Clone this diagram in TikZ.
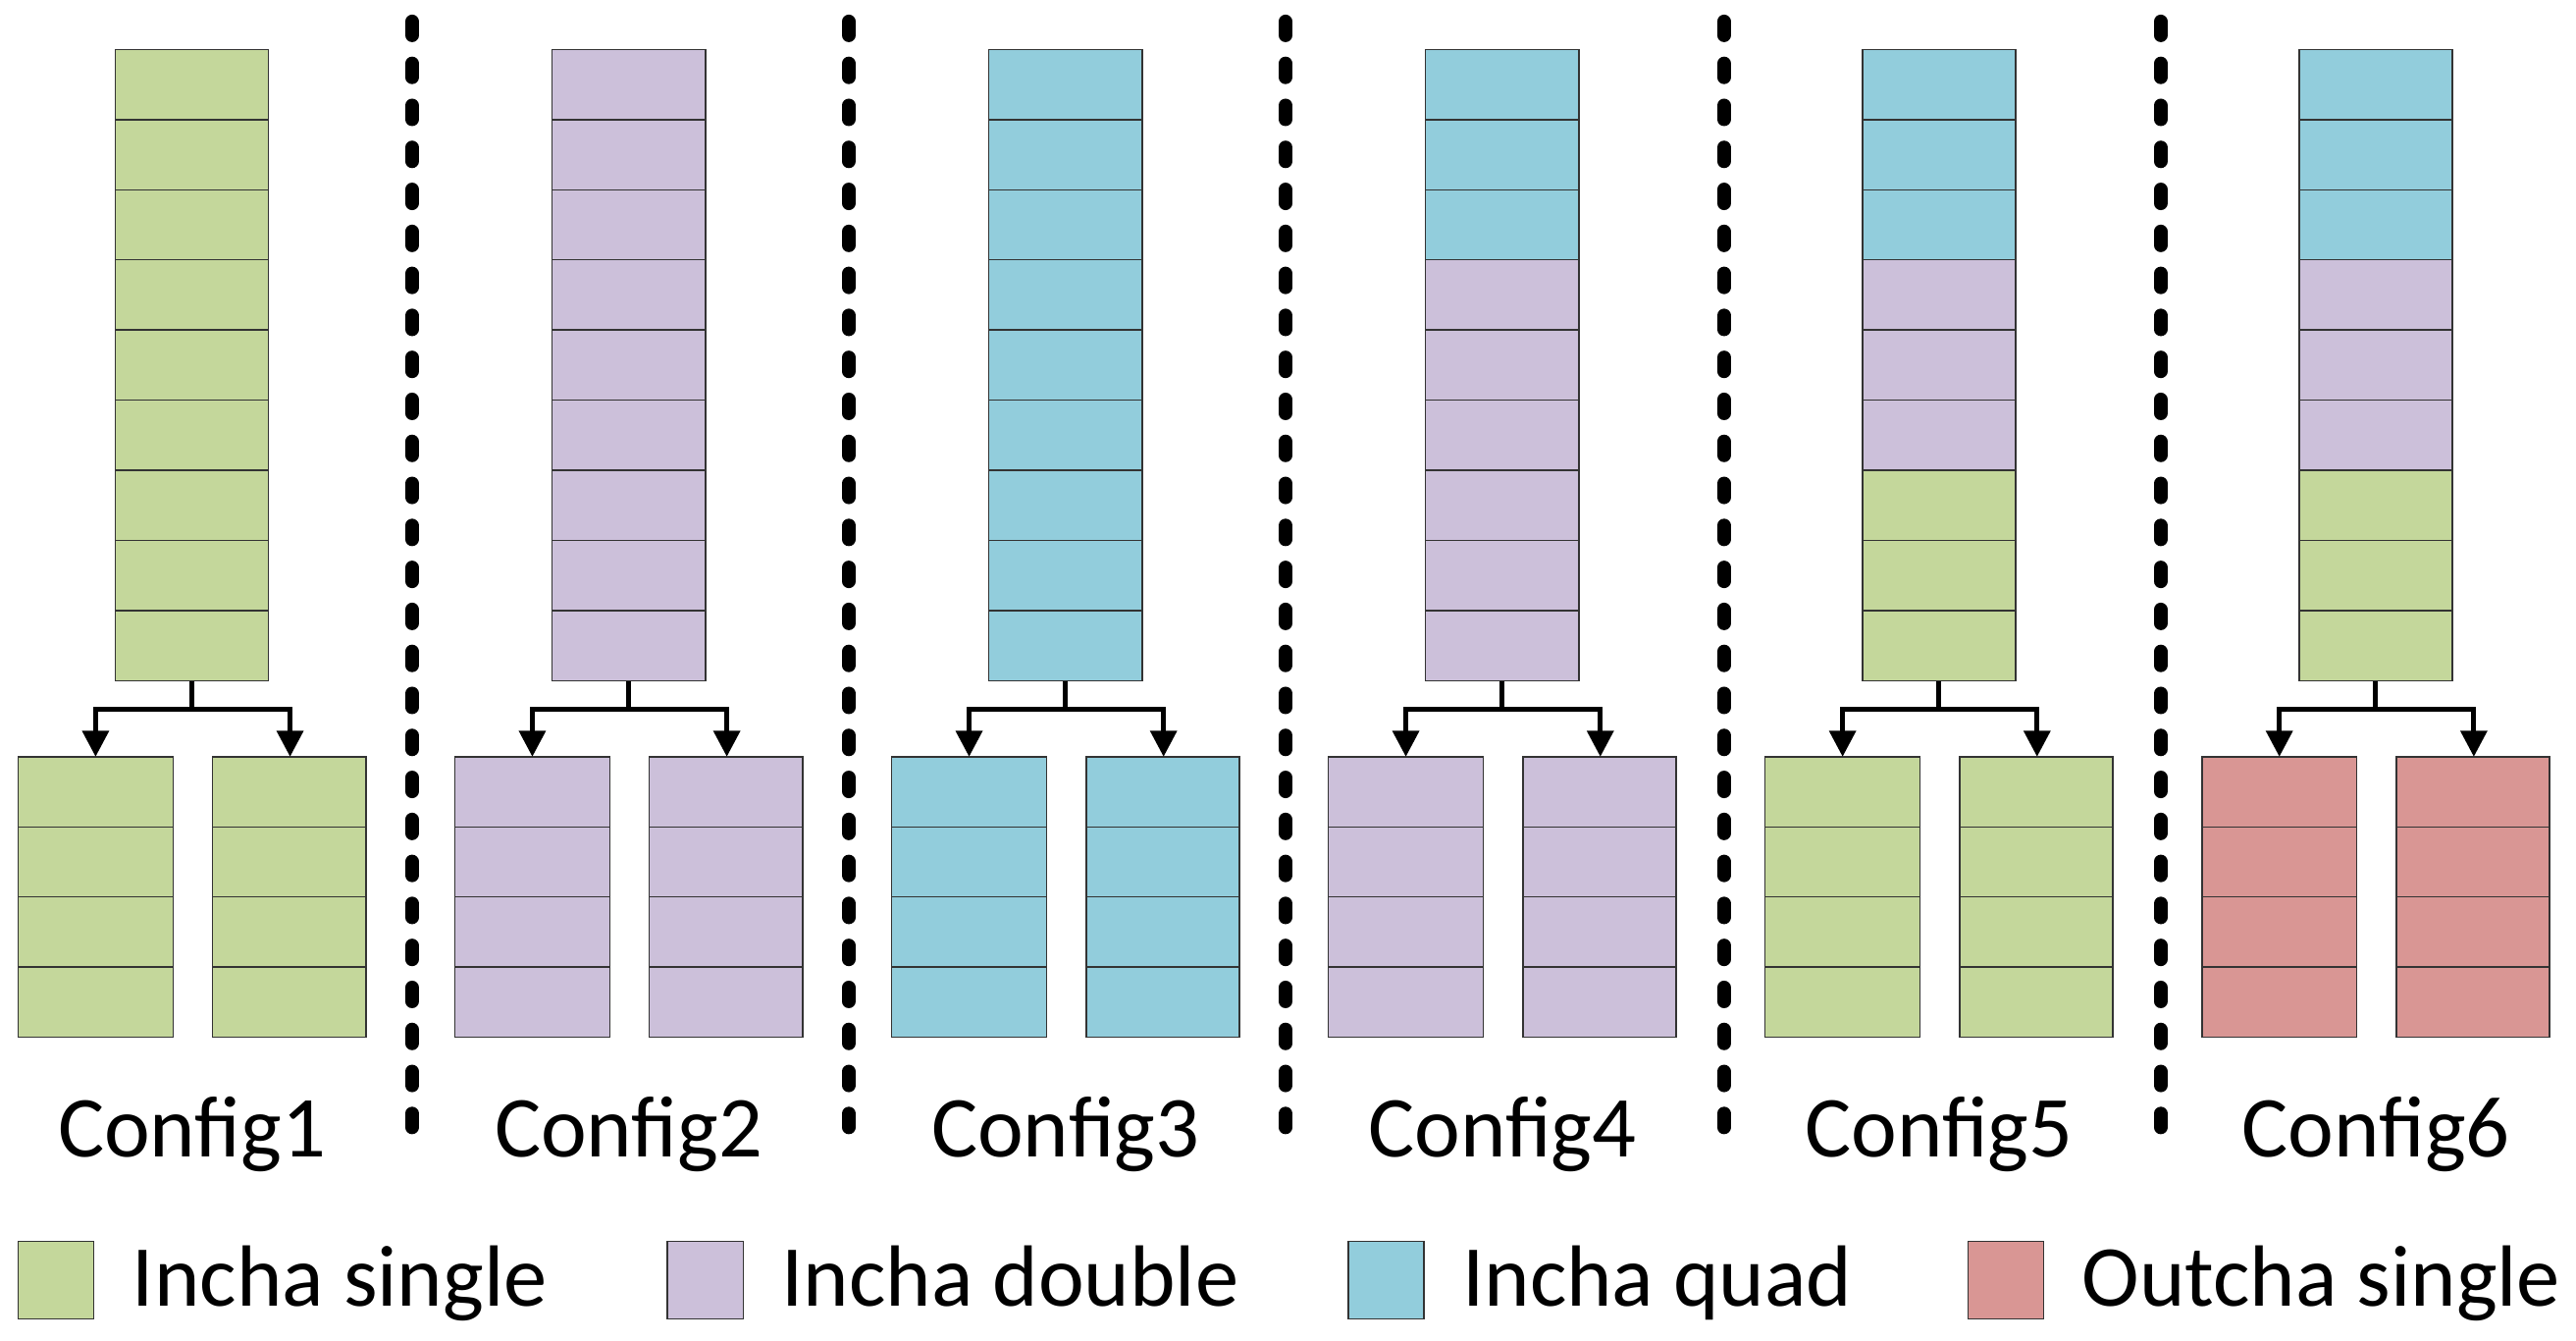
\documentclass[tikz,border=0pt]{standalone}
\usepackage{fontspec}
\setmainfont{Carlito}
\usetikzlibrary{arrows.meta}
\definecolor{cg}{HTML}{C4D79B}
\definecolor{cp}{HTML}{CCC0DA}
\definecolor{cq}{HTML}{92CDDC}
\definecolor{cr}{HTML}{D99694}
\tikzset{cell/.style={draw=black!80,line width=0.5pt},
 conn/.style={line width=1.7pt,-{Triangle[length=9pt,width=9pt]}},
 sep/.style={line width=4.7pt,line cap=round,dash pattern=on 4.8pt off 9.7pt},
 lbl/.style={font=\fontsize{30}{34}\selectfont,inner sep=0pt}}
\newcommand\mkcfg[4]{% #1 index, #2 offset, #3 colors, #4 bottom color
 \foreach \c [count=\j from 0] in {#3}{
  \fill[\c,cell] (70+#2,30+42.55*\j) rectangle (163+#2,72.55+42.55*\j);}
 \coordinate (top#1) at (116.5+#2,413);
 \coordinate (mid#1) at (116.5+#2,430);
 \coordinate (l#1) at (58+#2,430);
 \coordinate (r#1) at (176+#2,430);
 \coordinate (lb#1) at (58+#2,459);
 \coordinate (rb#1) at (176+#2,459);
 \foreach \j in {0,...,3}{
  \fill[#4,cell] (11+#2,459+42.5*\j) rectangle (105+#2,501.5+42.5*\j);
  \fill[#4,cell] (129+#2,459+42.5*\j) rectangle (222+#2,501.5+42.5*\j);}
 \draw[line width=1.7pt] (top#1) -- (mid#1);
 \draw[line width=1.7pt,line cap=rect] (l#1) -- (r#1);
 \draw[conn] (l#1) -- (lb#1);
 \draw[conn] (r#1) -- (rb#1);
 \node[lbl] (cfg#1) at (116.5+#2,688) {Config#1};
}
\begin{document}
\begin{tikzpicture}[x=0.02cm,y=-0.02cm]
\useasboundingbox (0,0) rectangle (1563,813);
\mkcfg{1}{0}{cg,cg,cg,cg,cg,cg,cg,cg,cg}{cg}
\mkcfg{2}{265}{cp,cp,cp,cp,cp,cp,cp,cp,cp}{cp}
\mkcfg{3}{530}{cq,cq,cq,cq,cq,cq,cq,cq,cq}{cq}
\mkcfg{4}{795}{cq,cq,cq,cp,cp,cp,cp,cp,cp}{cp}
\mkcfg{5}{1060}{cq,cq,cq,cp,cp,cp,cg,cg,cg}{cg}
\mkcfg{6}{1325}{cq,cq,cq,cp,cp,cp,cg,cg,cg}{cr}
\foreach \x [count=\i] in {250,515,780,1046,1311}{
 \coordinate (st\i) at (\x,13); \coordinate (sb\i) at (\x,692);
 \draw[sep] (st\i) -- (sb\i);}
\foreach \x/\c/\t [count=\i] in {11/cg/Incha single,405/cp/Incha double,818/cq/Incha quad,1194/cr/Outcha single}{
 \fill[\c,cell] (\x,753) rectangle (\x+46,800);
 \node[lbl,anchor=base west] (leg\i) at (\x+69,792) {\t};}
\end{tikzpicture}
\end{document}
